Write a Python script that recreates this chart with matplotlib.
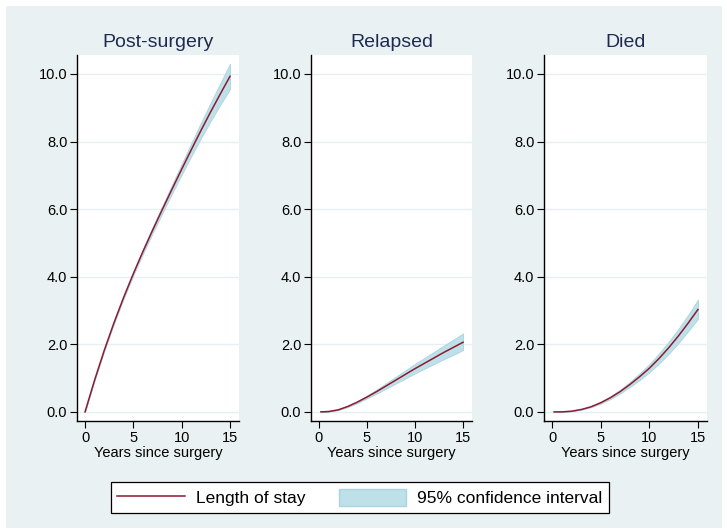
import matplotlib
matplotlib.use("Agg")
import matplotlib.pyplot as plt
from matplotlib.patches import Rectangle, Patch
from matplotlib.lines import Line2D
import numpy as np

plt.rcParams['font.family'] = ['Liberation Sans', 'DejaVu Sans']

titles = ["Post-surgery", "Relapsed", "Died"]
years = [0, 1, 2, 3, 4, 5, 6, 7, 8, 9, 10, 11, 12, 13, 14, 15]
post_est = [0.0, 0.95, 1.83, 2.64, 3.39, 4.09, 4.75, 5.38, 5.99, 6.59, 7.18, 7.76, 8.33, 8.88, 9.41, 9.93]
post_lo = [0.0, 0.94, 1.81, 2.61, 3.35, 4.04, 4.68, 5.29, 5.88, 6.46, 7.02, 7.57, 8.10, 8.61, 9.09, 9.55]
post_hi = [0.0, 0.96, 1.85, 2.67, 3.43, 4.14, 4.82, 5.47, 6.10, 6.72, 7.34, 7.95, 8.56, 9.15, 9.73, 10.30]

rel_years = [0.2, 1, 2, 3, 4, 5, 6, 7, 8, 9, 10, 11, 12, 13, 14, 15]
rel_est = [0.0, 0.01, 0.06, 0.16, 0.29, 0.44, 0.6, 0.77, 0.94, 1.11, 1.28, 1.44, 1.60, 1.76, 1.91, 2.06]
rel_lo = [0.0, 0.01, 0.05, 0.14, 0.26, 0.4, 0.54, 0.69, 0.84, 0.99, 1.14, 1.28, 1.42, 1.56, 1.69, 1.83]
rel_hi = [0.0, 0.01, 0.07, 0.18, 0.32, 0.48, 0.66, 0.85, 1.04, 1.23, 1.42, 1.60, 1.78, 1.96, 2.14, 2.32]

died_years = [0.2, 1, 2, 3, 4, 5, 6, 7, 8, 9, 10, 11, 12, 13, 14, 15]
died_est = [0.0, 0.0, 0.02, 0.07, 0.15, 0.27, 0.42, 0.6, 0.81, 1.04, 1.29, 1.58, 1.90, 2.25, 2.63, 3.03]
died_lo = [0.0, 0.0, 0.018, 0.063, 0.136, 0.245, 0.38, 0.545, 0.735, 0.94, 1.17, 1.43, 1.72, 2.04, 2.39, 2.75]
died_hi = [0.0, 0.0, 0.022, 0.077, 0.164, 0.295, 0.46, 0.655, 0.885, 1.14, 1.41, 1.73, 2.08, 2.46, 2.87, 3.32]

series = [
    (years, post_est, post_lo, post_hi),
    (rel_years, rel_est, rel_lo, rel_hi),
    (died_years, died_est, died_lo, died_hi),
]

yticks = [0, 2, 4, 6, 8, 10]
xticks = [0, 5, 10, 15]

W, H = 727, 529
fig = plt.figure(figsize=(W / 100, H / 100), dpi=100, facecolor='white')
bg = '#eaf1f3'
bgrect = Rectangle((6 / W, 1 - 528 / H), (722 - 6) / W, (528 - 6) / H,
                   transform=fig.transFigure, facecolor=bg, edgecolor='none', zorder=-10)
fig.add_artist(bgrect)

line_c = '#8c1b2e'
fill_c = '#bde0e9'
edge_c = '#a9d4e0'

lefts = [77, 311, 544]
rights = [239, 472, 707]
top, bottom = 55, 421

for i, (xs, est, lo, hi) in enumerate(series):
    ax = fig.add_axes([lefts[i] / W, 1 - bottom / H, (rights[i] - lefts[i]) / W, (bottom - top) / H])
    ax.set_facecolor('white')
    ax.fill_between(xs, lo, hi, facecolor=fill_c, edgecolor=edge_c, linewidth=0.6, zorder=2)
    ax.plot(xs, est, color=line_c, linewidth=1.1, zorder=3)
    ax.set_xlim(-0.83, 15.93)
    ax.set_ylim(-0.27, 10.56)
    ax.set_yticks(yticks)
    ax.set_yticklabels([f"{v:.1f}" for v in yticks])
    ax.set_xticks(xticks)
    ax.yaxis.grid(True, color='#e6eff1', linewidth=1.0, zorder=0)
    ax.set_axisbelow(True)
    for s in ['top', 'right']:
        ax.spines[s].set_visible(False)
    for s in ['left', 'bottom']:
        ax.spines[s].set_color('black')
        ax.spines[s].set_linewidth(1.0)
    ax.tick_params(axis='both', labelsize=10.5, length=5, width=0.8, colors='black', pad=2)
    ax.set_xlabel("Years since surgery", fontsize=10.5, labelpad=1)
    ax.set_title(titles[i], fontsize=14, color='#1e2b50', pad=6)

handles = [Line2D([0], [0], color=line_c, linewidth=1.1),
           Patch(facecolor=fill_c, edgecolor=edge_c)]
leg = fig.legend(handles, ["Length of stay", "95% confidence interval"],
                 loc='center', bbox_to_anchor=((108 + 612) / 2 / W, 1 - 497.5 / H),
                 ncol=2, fontsize=12.5, frameon=True, fancybox=False,
                 edgecolor='black', facecolor='white', handlelength=3.9,
                 handleheight=1.15, columnspacing=1.9, borderpad=0.4, handletextpad=0.63)
leg.get_frame().set_linewidth(0.9)
leg.get_frame().set_alpha(1)

fig.savefig("out.png", dpi=100, facecolor=fig.get_facecolor())
